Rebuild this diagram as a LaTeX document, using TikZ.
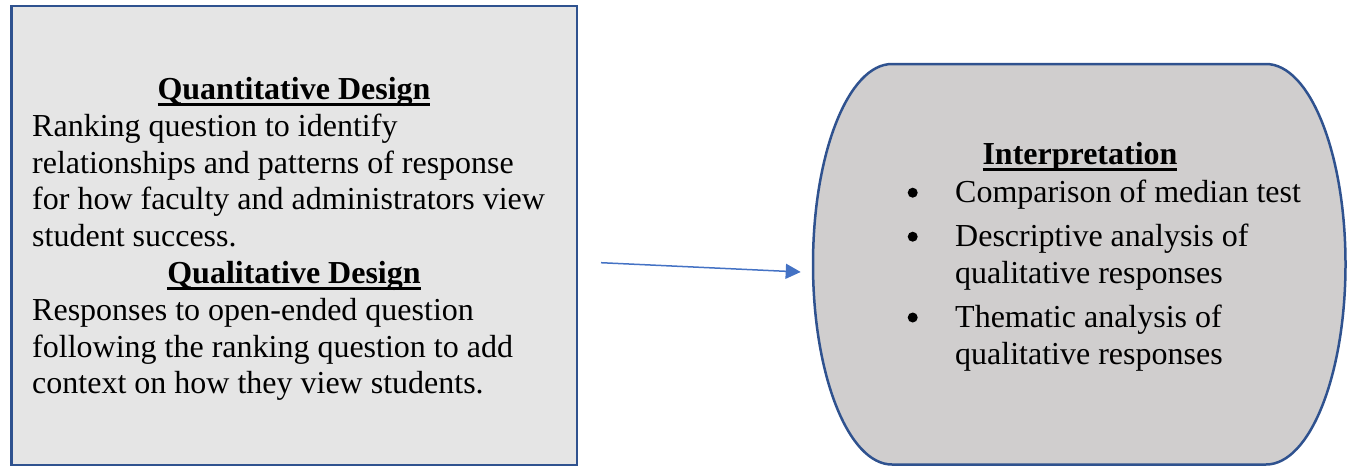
\documentclass[tikz,border=0pt]{standalone}
\usepackage{fontspec}
\setmainfont{Liberation Serif}
\usetikzlibrary{arrows.meta}

\definecolor{edgeblue}{HTML}{2F528F}
\definecolor{arrowblue}{HTML}{4472C4}
\definecolor{leftfill}{HTML}{E5E5E5}
\definecolor{rightfill}{HTML}{D0CECE}

% bold heading with a Word-style underline rule
\newsavebox{\headbox}
\newcommand{\ulhead}[1]{\sbox{\headbox}{\bfseries #1}%
  \rlap{\rule[-6.3pt]{\wd\headbox}{2.7pt}}\usebox{\headbox}}

\tikzset{
  panel/.style={draw=edgeblue, line width=2.5pt, fill=leftfill, rectangle,
    inner sep=0pt},
  capsule/.style={draw=edgeblue, line width=2.5pt, fill=rightfill},
  line/.style={anchor=base west, inner sep=0pt, font=\fontsize{32}{36.8}\selectfont},
  head/.style={anchor=base, inner sep=0pt, font=\fontsize{32}{36.8}\selectfont},
  dot/.style={fill=black, draw=none},
  flow/.style={draw=arrowblue, line width=1.5pt, -{Triangle[length=15pt,width=15pt]}}
}

\begin{document}
\begin{tikzpicture}[x=1pt, y=-1pt]
\useasboundingbox (0,0) rectangle (1351,466);

% design panel
\node[panel, minimum width=565.5pt, minimum height=459pt] (design) at (294.25,235.5) {};

\node[head] (quanthead) at (294,99.5) {\ulhead{Quantitative Design}};
\node[line] (q1) at (32,136.3) {Ranking question to identify};
\node[line] (q2) at (32,173.1) {relationships and patterns of response};
\node[line] (q3) at (32,209.9) {for how faculty and administrators view};
\node[line] (q4) at (32,246.7) {student success.};
\node[head] (qualhead) at (294,283.5) {\ulhead{Qualitative Design}};
\node[line] (r1) at (32,320.3) {Responses to open-ended question};
\node[line] (r2) at (32,357.1) {following the ranking question to add};
\node[line] (r3) at (32,393.9) {context on how they view students.};

% interpretation capsule
\draw[capsule] (892,64) -- (1266,64)
  arc[start angle=90, end angle=-90, x radius=79.5pt, y radius=200.25pt]
  -- (892,464.5)
  arc[start angle=270, end angle=90, x radius=79pt, y radius=200.25pt]
  -- cycle;
\coordinate (interp) at (813,264);

\node[head] (interphead) at (1080,164.3) {\ulhead{Interpretation}};
\fill[dot] (912.7,192.7) circle[radius=5pt];
\node[line] (i1) at (955,202.7) {Comparison of median test};
\fill[dot] (912.7,236.7) circle[radius=5pt];
\node[line] (i2) at (955,246.7) {Descriptive analysis of};
\node[line] (i2b) at (955,283.5) {qualitative responses};
\fill[dot] (912.7,317.5) circle[radius=5pt];
\node[line] (i3) at (955,327.5) {Thematic analysis of};
\node[line] (i3b) at (955,364.3) {qualitative responses};

% connector
\coordinate (src) at (601,262.7);
\coordinate (tip) at (800.7,272);
\draw[flow] (src) -- (tip);
\end{tikzpicture}
\end{document}
